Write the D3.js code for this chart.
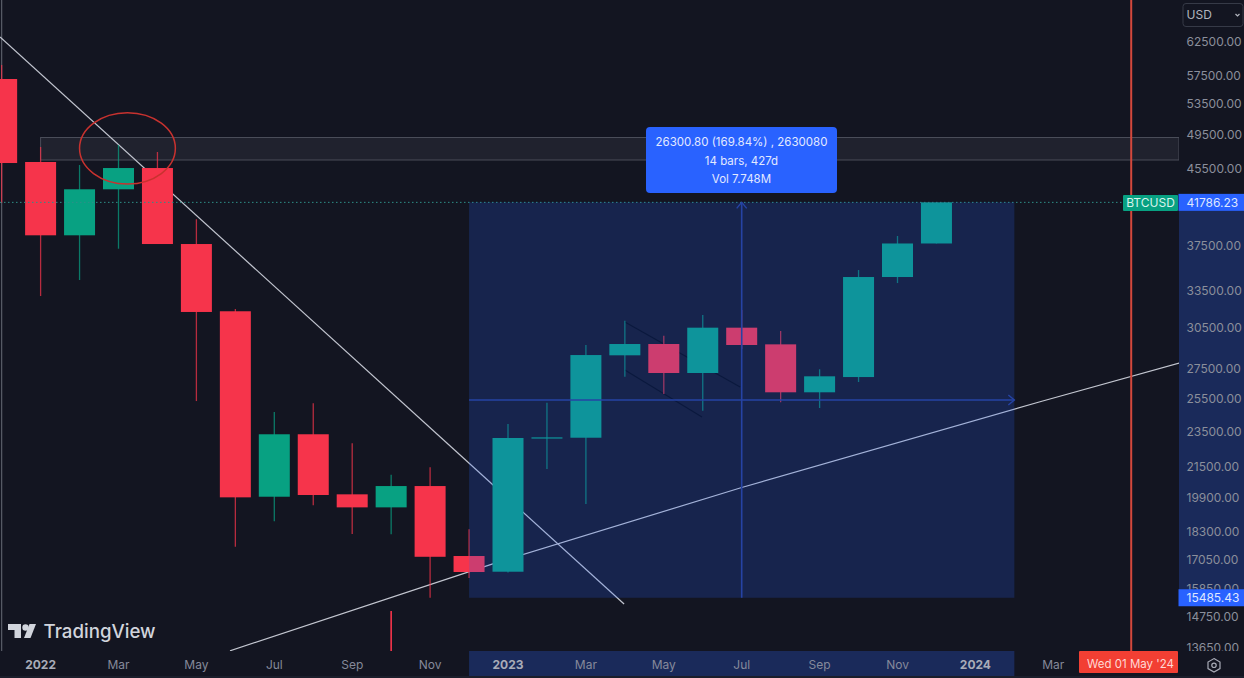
<!DOCTYPE html>
<html>
<head>
<meta charset="utf-8">
<script src="https://cdn.jsdelivr.net/npm/d3@7"></script>
<style>
  html, body { margin: 0; padding: 0; background: #131521; overflow: hidden; }
  text { font-family: Inter, "Noto Sans", sans-serif; }
</style>
</head>
<body>
<div id="chart"></div>
<script>
// months counted from Jan 2022
const candleMonth = [-1, 0, 1, 2, 3, 4, 5, 6, 7, 8, 9, 10, 11, 12, 13, 14, 15, 16, 17, 18, 19, 20, 21, 22, 23];
const opens  = [56955, 46243, 38469, 43180, 45548, 37636, 31790, 19956, 23344, 20076, 19430, 20498, 17196, 16531, 23163, 23142, 28462, 29281, 27225, 30506, 29256, 25938, 26950, 34644, 37687];
const closes = [46124, 38469, 43180, 45548, 37636, 31733, 19925, 23344, 20042, 19430, 20498, 17163, 16519, 23127, 23163, 28481, 29281, 27225, 30506, 29208, 25938, 27000, 34644, 37687, 41786.23];
const highs  = [58990, 48019, 45893, 48265, 47417, 40051, 31970, 24688, 25232, 22819, 21090, 21488, 18387, 23956, 25271, 29208, 31044, 29899, 31494, 31888, 30250, 27481, 35256, 38400, 41786.23];
const lows   = [41716, 33029, 34386, 37195, 37636, 25374, 17601, 18761, 19530, 18168, 18157, 15486, 16275, 16500, 21394, 19593, 26973, 25825, 24763, 28912, 25294, 24937, 26619, 34125, 37687];

const priceTicks = [62500, 57500, 53500, 49500, 45500, 37500, 33500, 30500, 27500, 25500, 23500, 21500, 19900, 18300, 17050, 15850, 14750, 13650];
const monthTicks = [0, 2, 4, 6, 8, 10, 12, 14, 16, 18, 20, 22, 24, 26];
const monthLabels = ['2022', 'Mar', 'May', 'Jul', 'Sep', 'Nov', '2023', 'Mar', 'May', 'Jul', 'Sep', 'Nov', '2024', 'Mar'];
const yearLabels = ['2022', '2023', '2024'];

const measureLow = 15485.43;
const measureHigh = 41786.23;
const measureFrom = 11;
const measureTo = 25;
const measureLines = ['26300.80 (169.84%) , 2630080', '14 bars, 427d', 'Vol 7.748M'];
const cursorMonth = 28;
const zoneTop = 49176;
const zoneBottom = 46475;

// [month, price] points of the drawn trend lines
const trendDown = [[-1.042, 63290], [14.98, 15243]];
const trendUp = [[4.863, 13555], [11.59, 16850], [17.98, 20413], [25.66, 25331], [29.23, 27916]];
const channelA = [[15, 30942], [17.96, 26281]];
const channelB = [[15, 27431], [16.98, 24377]];
const strayWick = [9, 14975, 13550];

const width = 1244;
const height = 678;
const plotRight = 1179;
const plotBottom = 651;

const bg = '#131521';
const up = '#08a182';
const down = '#f6344b';

const x = d3.scaleLinear().domain([0, 28]).range([40.6, 1131.2]);
const y = d3.scaleLog().domain([13650, 62500]).range([648, 42]);

const svg = d3.select('#chart').append('svg')
  .attr('width', width)
  .attr('height', height)
  .style('display', 'block');

svg.append('rect').attr('width', width).attr('height', height).attr('fill', bg);

const defs = svg.append('defs');
defs.append('clipPath').attr('id', 'plotClip').append('rect')
  .attr('width', plotRight).attr('height', plotBottom);
defs.append('clipPath').attr('id', 'axisClip').append('rect')
  .attr('x', plotRight).attr('width', width - plotRight).attr('height', plotBottom);

const plot = svg.append('g').attr('clip-path', 'url(#plotClip)');
const line = d3.line().x(d => x(d[0])).y(d => y(d[1]));

// resistance zone
plot.append('rect')
  .attr('x', x(0))
  .attr('y', y(zoneTop))
  .attr('width', plotRight - x(0))
  .attr('height', y(zoneBottom) - y(zoneTop))
  .attr('fill', '#ffffff')
  .attr('fill-opacity', 0.06)
  .attr('stroke', '#4a4d59')
  .attr('stroke-width', 1);

// left edge line
plot.append('line')
  .attr('x1', x(-1)).attr('x2', x(-1))
  .attr('y1', 0).attr('y2', plotBottom)
  .attr('stroke', '#5a5d68').attr('stroke-width', 1.2);

// trend lines sit under the candles
[trendDown, trendUp].forEach(pts => {
  plot.append('path').attr('d', line(pts))
    .attr('fill', 'none').attr('stroke', '#c3c6d0').attr('stroke-width', 1.2);
});
[channelA, channelB].forEach(pts => {
  plot.append('path').attr('d', line(pts))
    .attr('fill', 'none').attr('stroke', '#04060e').attr('stroke-width', 1.2);
});

const candles = candleMonth.map((m, i) => ({
  month: m,
  open: opens[i],
  close: closes[i],
  high: highs[i],
  low: lows[i]
}));
const isUp = d => d.close >= d.open;
const bodyWidth = 31;

plot.selectAll('.wick')
  .data(candles)
  .enter()
  .append('line')
  .attr('class', 'wick')
  .attr('x1', d => x(d.month))
  .attr('x2', d => x(d.month))
  .attr('y1', d => y(d.high))
  .attr('y2', d => y(d.low))
  .attr('stroke', d => isUp(d) ? up : down)
  .attr('stroke-opacity', 0.72)
  .attr('stroke-width', 1.3);

plot.append('line')
  .attr('x1', x(strayWick[0])).attr('x2', x(strayWick[0]))
  .attr('y1', y(strayWick[1])).attr('y2', y(strayWick[2]))
  .attr('stroke', down).attr('stroke-width', 1.6);

plot.selectAll('.body')
  .data(candles)
  .enter()
  .append('rect')
  .attr('class', 'body')
  .attr('x', d => x(d.month) - bodyWidth / 2)
  .attr('y', d => y(Math.max(d.open, d.close)))
  .attr('width', bodyWidth)
  .attr('height', d => Math.max(1.2, Math.abs(y(d.open) - y(d.close))))
  .attr('fill', d => isUp(d) ? up : down);

// current price dotted line
plot.append('line')
  .attr('x1', 0).attr('x2', plotRight)
  .attr('y1', y(measureHigh)).attr('y2', y(measureHigh))
  .attr('stroke', '#2f8f88').attr('stroke-width', 1).attr('stroke-dasharray', '1.5 2.5');

// measure box, over the candles so they pick up its tint
plot.append('rect')
  .attr('x', x(measureFrom))
  .attr('y', y(measureHigh))
  .attr('width', x(measureTo) - x(measureFrom))
  .attr('height', y(measureLow) - y(measureHigh))
  .attr('fill', '#2962ff')
  .attr('fill-opacity', 0.2);

const midPrice = Math.sqrt(measureLow * measureHigh);
const arrowColor = '#2643a4';
const midMonth = (measureFrom + measureTo) / 2;
plot.append('line')
  .attr('x1', x(measureFrom)).attr('x2', x(measureTo))
  .attr('y1', y(midPrice)).attr('y2', y(midPrice))
  .attr('stroke', arrowColor).attr('stroke-width', 1.6);
plot.append('line')
  .attr('x1', x(midMonth)).attr('x2', x(midMonth))
  .attr('y1', y(measureHigh)).attr('y2', y(measureLow))
  .attr('stroke', arrowColor).attr('stroke-width', 1.6);
const rightTip = [x(measureTo), y(midPrice)];
const topTip = [x(midMonth), y(measureHigh)];
plot.append('path')
  .attr('d', `M${rightTip[0] - 6},${rightTip[1] - 5}L${rightTip[0]},${rightTip[1]}L${rightTip[0] - 6},${rightTip[1] + 5}`)
  .attr('fill', 'none').attr('stroke', arrowColor).attr('stroke-width', 1.4);
plot.append('path')
  .attr('d', `M${topTip[0] - 5},${topTip[1] + 6}L${topTip[0]},${topTip[1]}L${topTip[0] + 5},${topTip[1] + 6}`)
  .attr('fill', 'none').attr('stroke', arrowColor).attr('stroke-width', 1.4);

// red circle round the rejection
plot.append('ellipse')
  .attr('cx', (x(1) + x(3.46)) / 2)
  .attr('cy', (y(52340) + y(43756)) / 2)
  .attr('rx', (x(3.46) - x(1)) / 2)
  .attr('ry', (y(43756) - y(52340)) / 2)
  .attr('fill', 'none')
  .attr('stroke', '#c8322f')
  .attr('stroke-width', 1.5);

// crosshair date line
plot.append('line')
  .attr('x1', x(cursorMonth)).attr('x2', x(cursorMonth))
  .attr('y1', 0).attr('y2', plotBottom)
  .attr('stroke', '#d4483c').attr('stroke-width', 2);

// TradingView mark
const logo = svg.append('g').attr('fill', '#d1d4dc');
logo.append('path').attr('d', 'M8,624H21V638H14.5V630H8Z');
logo.append('circle').attr('cx', 25.5).attr('cy', 627.5).attr('r', 3.2);
logo.append('path').attr('d', 'M29.5,624H36L30.5,638H24Z');
logo.append('text')
  .attr('x', 43.5).attr('y', 637.5)
  .attr('font-size', 18.7)
  .attr('font-weight', 500)
  .text('TradingView');

// axis highlights
svg.append('rect')
  .attr('x', plotRight).attr('y', y(measureHigh))
  .attr('width', width - plotRight).attr('height', y(measureLow) - y(measureHigh))
  .attr('fill', '#1a2a5a');
svg.append('rect')
  .attr('x', x(measureFrom)).attr('y', plotBottom)
  .attr('width', x(measureTo) - x(measureFrom)).attr('height', 25)
  .attr('fill', '#1a2a5a');
svg.append('rect')
  .attr('y', 676).attr('width', width).attr('height', 2).attr('fill', '#1b1e2b');

// price axis
const yAxis = d3.axisRight(y)
  .tickValues(priceTicks)
  .tickFormat(d => d.toFixed(2))
  .tickSize(0)
  .tickPadding(0);
const yAxisG = svg.append('g')
  .attr('clip-path', 'url(#axisClip)')
  .append('g')
  .attr('transform', `translate(1186.5,0)`)
  .call(yAxis);
yAxisG.select('.domain').remove();
yAxisG.selectAll('text')
  .attr('fill', '#8b8f9b')
  .attr('font-size', 12)
  .style('font-family', 'Inter, "Noto Sans", sans-serif');

// time axis
const xAxis = d3.axisBottom(x)
  .tickValues(monthTicks)
  .tickFormat((d, i) => monthLabels[i])
  .tickSize(0)
  .tickPadding(0);
const xAxisG = svg.append('g')
  .attr('transform', 'translate(-0.5,660)')
  .call(xAxis);
xAxisG.select('.domain').remove();
xAxisG.selectAll('text')
  .attr('fill', (d, i) => yearLabels.includes(monthLabels[i]) ? '#a9acb8' : '#85899a')
  .attr('font-weight', (d, i) => yearLabels.includes(monthLabels[i]) ? 700 : 400)
  .attr('font-size', 12)
  .style('font-family', 'Inter, "Noto Sans", sans-serif');

// date label
svg.append('rect')
  .attr('x', 1079).attr('y', plotBottom)
  .attr('width', 99).attr('height', 22)
  .attr('rx', 1)
  .attr('fill', '#f23f33');
svg.append('text')
  .attr('x', 1130.5).attr('y', 668)
  .attr('text-anchor', 'middle')
  .attr('font-size', 11.5)
  .attr('fill', '#ffd9d5')
  .text("Wed 01 May '24");

// price labels
svg.append('rect')
  .attr('x', 1123).attr('y', 195)
  .attr('width', 55).attr('height', 16)
  .attr('rx', 1)
  .attr('fill', up);
svg.append('text')
  .attr('x', 1150.5).attr('y', 207)
  .attr('text-anchor', 'middle')
  .attr('font-size', 12)
  .attr('fill', '#d8f3ec')
  .text('BTCUSD');

[measureHigh, measureLow].forEach(p => {
  svg.append('rect')
    .attr('x', 1178.5).attr('y', y(p) - 8.5)
    .attr('width', 65.5).attr('height', 17)
    .attr('fill', '#2962ff');
  svg.append('text')
    .attr('x', 1186.5).attr('y', y(p) + 4.3)
    .attr('font-size', 12)
    .attr('fill', '#dfe7ff')
    .text(p.toFixed(2));
});

// currency picker
svg.append('rect')
  .attr('x', 1183).attr('y', 3.5)
  .attr('width', 60).attr('height', 23)
  .attr('rx', 3)
  .attr('fill', 'none')
  .attr('stroke', '#363a47');
svg.append('text')
  .attr('x', 1186.5).attr('y', 19)
  .attr('font-size', 12)
  .attr('fill', '#b2b5be')
  .text('USD');
svg.append('path')
  .attr('d', 'M1235.5,14L1237.5,16L1239.5,14')
  .attr('fill', 'none').attr('stroke', '#b2b5be').attr('stroke-width', 1.2);

// settings icon
svg.append('path')
  .attr('d', 'M1214,658.6L1220,662V668.6L1214,672L1208,668.6V662Z')
  .attr('fill', 'none').attr('stroke', '#a8abb6').attr('stroke-width', 1.2);
svg.append('circle')
  .attr('cx', 1214).attr('cy', 665.3).attr('r', 2.2)
  .attr('fill', 'none').attr('stroke', '#a8abb6').attr('stroke-width', 1.2);

// measure tooltip
svg.append('rect')
  .attr('x', 646).attr('y', 127)
  .attr('width', 191).attr('height', 66)
  .attr('rx', 4)
  .attr('fill', '#2962ff');
svg.selectAll('.tip')
  .data(measureLines)
  .enter()
  .append('text')
  .attr('class', 'tip')
  .attr('x', 741.5)
  .attr('y', (d, i) => 146 + i * 18.7)
  .attr('text-anchor', 'middle')
  .attr('font-size', 11.5)
  .attr('fill', '#e3e9ff')
  .text(d => d);
</script>
</body>
</html>
